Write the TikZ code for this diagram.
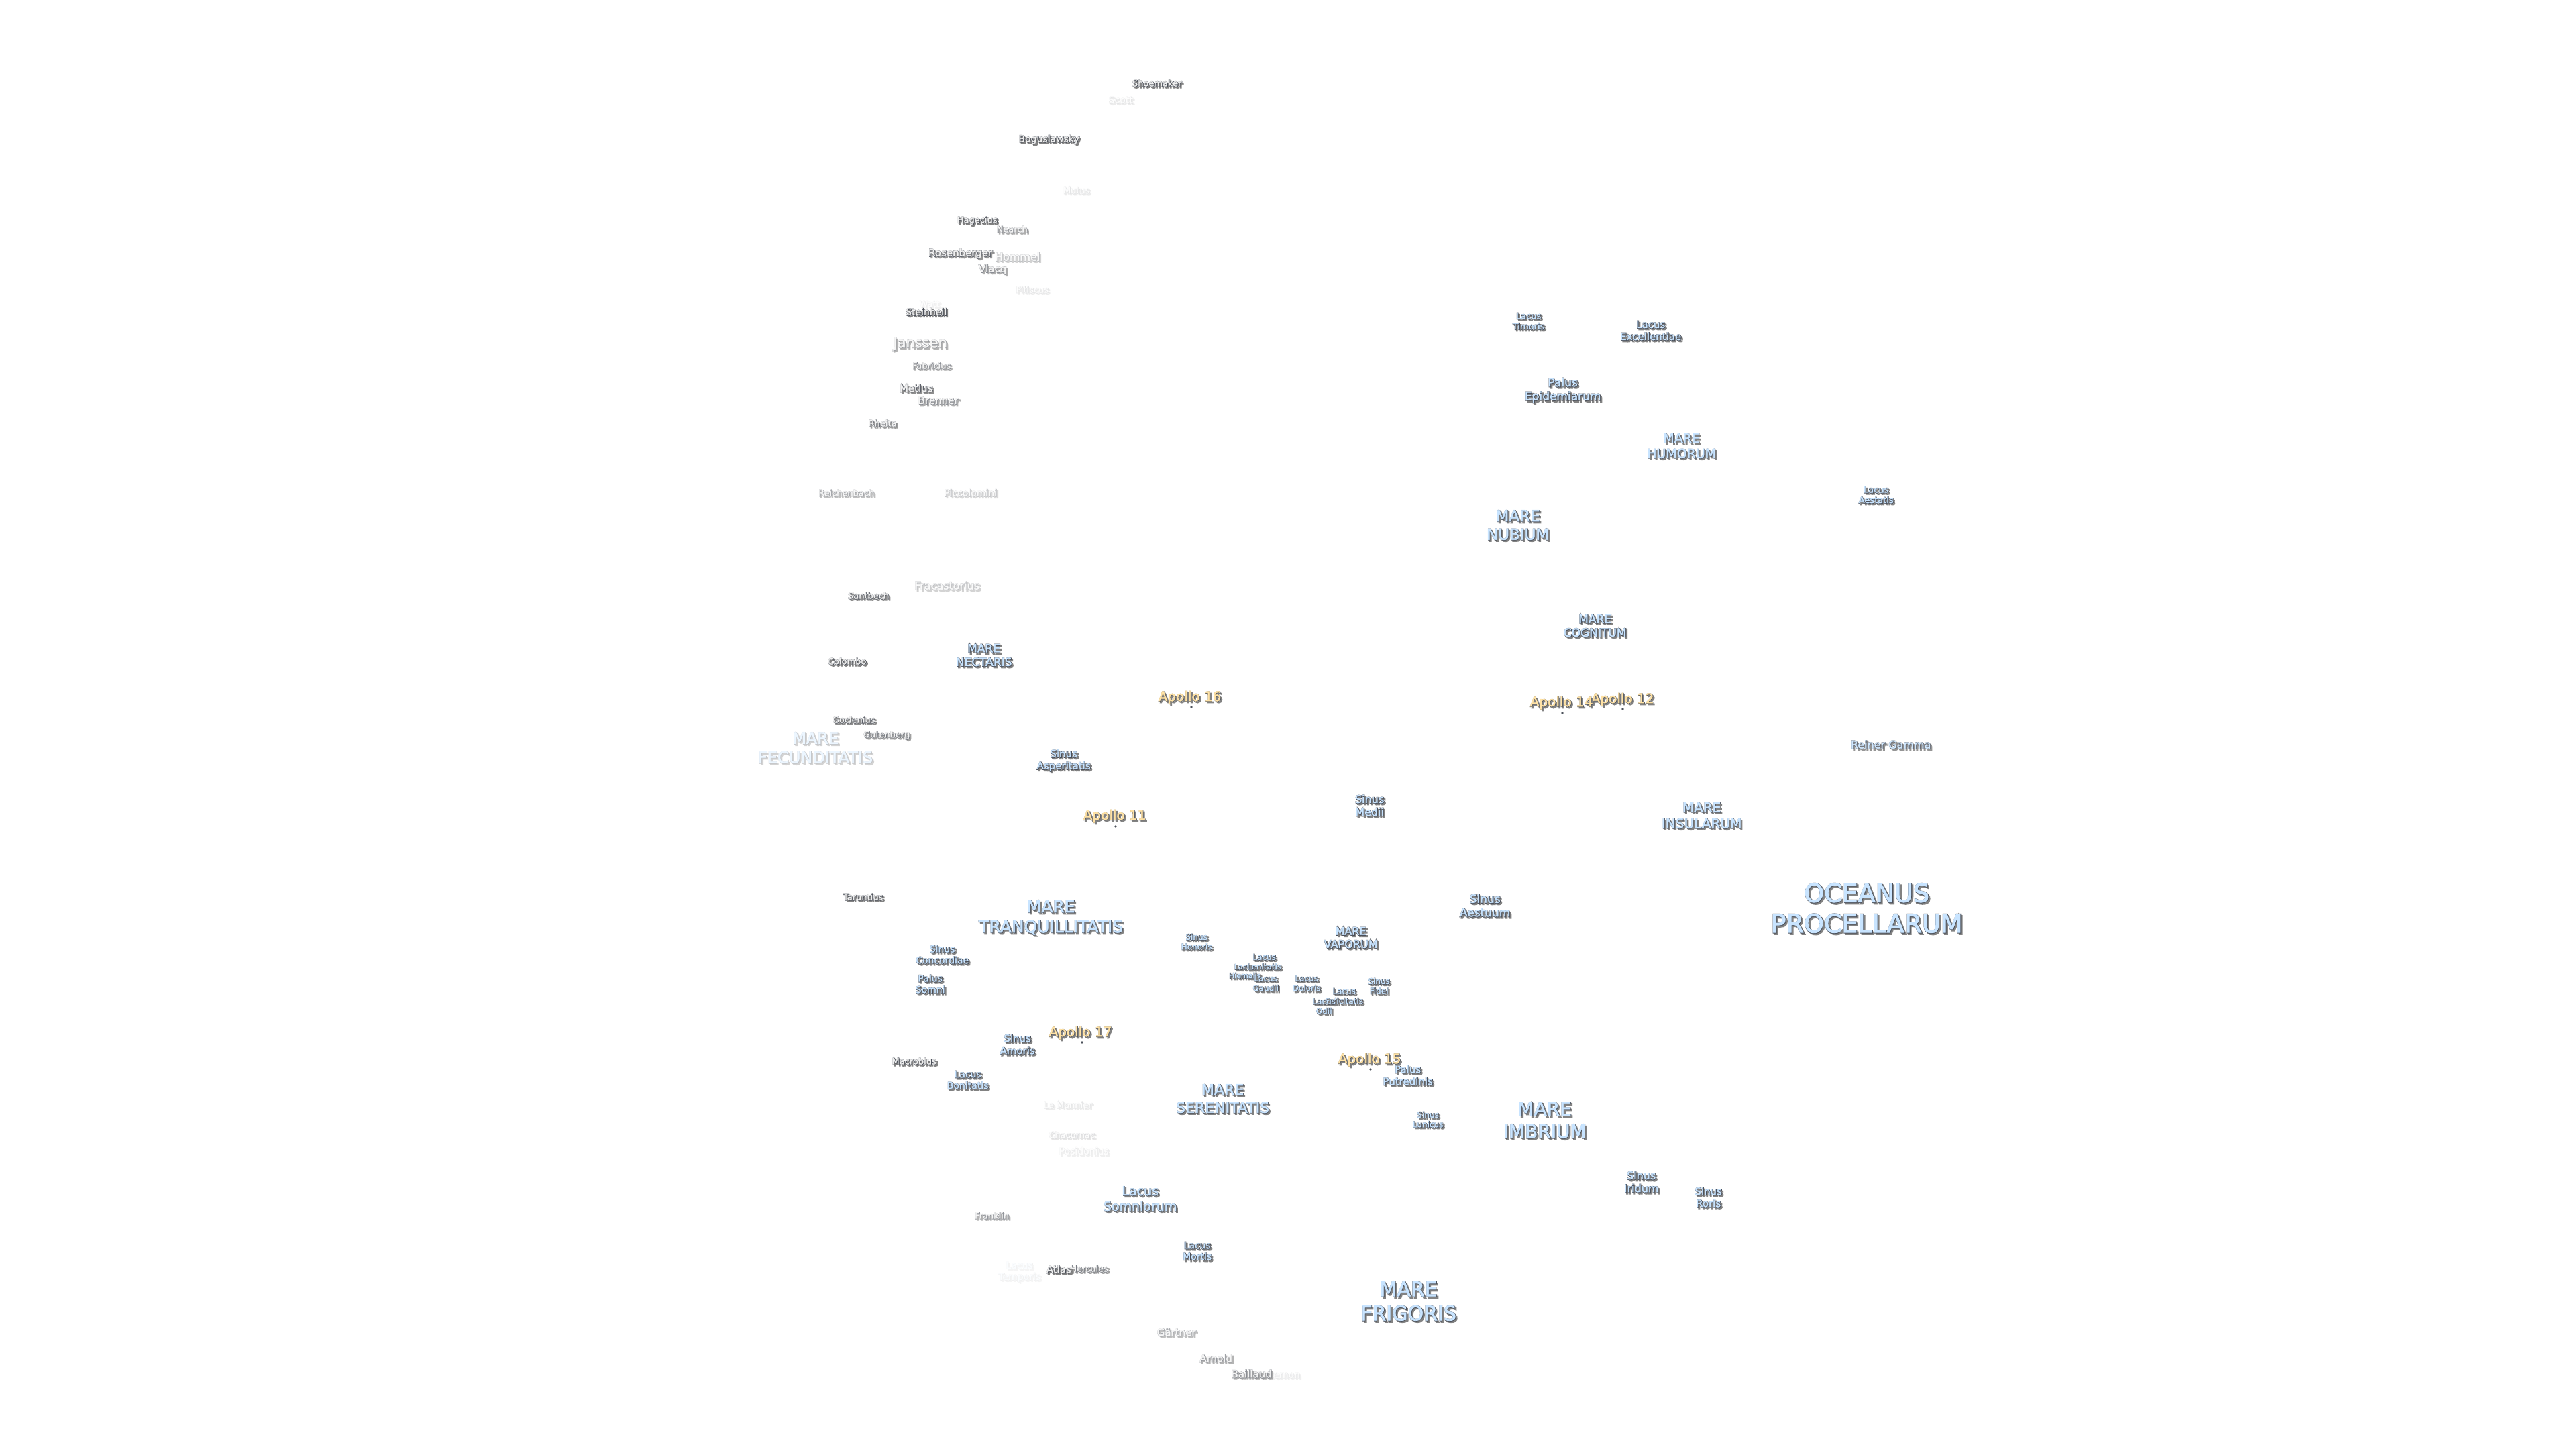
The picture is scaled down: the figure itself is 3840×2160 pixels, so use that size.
\documentclass[tikz,border=0pt]{standalone}
\usepackage{fontspec}
\setmainfont{DejaVu Sans}
\newfontfamily\moonpensmall[FakeBold=10]{DejaVu Sans}
\newfontfamily\moonpenbig[FakeBold=5.5]{DejaVu Sans}
\newfontfamily\moonbody[FakeBold=2.5]{DejaVu Sans}
\usepackage{xcolor}
\usepackage{tikz}
\usetikzlibrary{positioning}
\definecolor{mareFill}{RGB}{200, 228, 255}
\definecolor{craterFill}{RGB}{240, 240, 240}
\definecolor{apolloFill}{RGB}{255, 226, 165}
\definecolor{rimDark}{RGB}{75, 80, 90}
\definecolor{shadeGray}{RGB}{130, 130, 130}
\tikzset{
    moonrim/.style={text=rimDark, align=center, inner sep=0pt},
    moonshade/.style={text=shadeGray, align=center, inner sep=0pt},
    moonfill/.style={align=center, inner sep=0pt},
    sitedot/.style={circle, fill=rimDark, inner sep=0pt, minimum size=0.9pt}
}
\newcommand{\moonlabel}[7]{%
    \pgfmathsetmacro\ptsize{#4/4}%
    \pgfmathsetmacro\ptskip{#4*1.2/4}%
    \ifnum#4<18 \let\moonpen\moonpensmall\else\let\moonpen\moonpenbig\fi
    \begin{scope}[transparency group, opacity=#5]
        \node[moonshade, font=\fontsize{\ptsize}{\ptskip}\selectfont\moonpen] (#1-shade) at (#2+2.2,#3+2.2) {#7};
        \node[moonrim, font=\fontsize{\ptsize}{\ptskip}\selectfont\moonpen] (#1-rim) at (#2,#3) {#7};
        \node[moonfill, text=#6, font=\fontsize{\ptsize}{\ptskip}\selectfont\moonbody] (#1) at (#2-0.4,#3-0.4) {#7};
    \end{scope}%
}
\begin{document}
\begin{tikzpicture}[x=0.25pt, y=-0.25pt]
    \useasboundingbox (0,0) rectangle (3840,2160);
    % craters, faint ones first
    \foreach \name/\x/\y/\fs/\op/\txt in {
        watt/1386/453/13/0.1/Watt, euctemon/1903/2049/14/0.12/Euctemon,
        scott/1671/149/14/0.15/Scott, mutus/1605/284/13/0.15/Mutus,
        pitiscus/1539/432/13/0.15/Pitiscus, monnier/1592/1647/13/0.15/Le Monnier,
        chacornac/1598/1692/13/0.2/Chacornac, posidonius/1616/1716/14/0.12/Posidonius,
        piccolomini/1447/735/14/0.3/Piccolomini, hommel/1517/383/16/0.35/Hommel,
        fracastorius/1412/873/16/0.35/Fracastorius, reichenbach/1262/735/13/0.5/Reichenbach,
        gartner/1754/1986/15/0.5/Gärtner, arnold/1813/2025/15/0.6/Arnold,
        franklin/1479/1812/13/0.6/Franklin, janssen/1372/513/21/0.6/Janssen,
        nearch/1509/342/13/0.65/Nearch, vlacq/1480/402/15/0.65/Vlacq,
        fabricius/1389/545/13/0.65/Fabricius, brenner/1399/597/15/0.65/Brenner,
        baillaud/1866/2048/15/0.65/Baillaud, gutenberg/1322/1096/13/0.75/Gutenberg,
        hercules/1624/1891/13/0.75/Hercules, rheita/1316/631/13/0.8/Rheita,
        rosenberger/1432/378/15/0.85/Rosenberger, metius/1366/579/15/0.9/Metius,
        santbech/1295/888/13/0.9/Santbech, goclenius/1273/1073/13/0.9/Goclenius,
        shoemaker/1725/124/13/1/Shoemaker, boguslawsky/1564/208/14/1/Boguslawsky,
        hagecius/1457/329/13/1/Hagecius, steinheil/1381/465/14/1/Steinheil,
        colombo/1263/986/13/1/Colombo, taruntius/1287/1337/13/1/Taruntius,
        macrobius/1363/1582/13/1/Macrobius, atlas/1581/1892/15/1/Atlas
    }{
        \moonlabel{\name}{\x}{\y}{\fs}{\op}{craterFill}{\txt}
    }
    % maria, lakes and bays
    \foreach \name/\x/\y/\fs/\op/\txt in {
        temporis/1520/1896/14/0.08/Lacus\\Temporis,
        fecunditatis/1216/1115/24/0.35/MARE\\FECUNDITATIS,
        reiner/2819/1110/16/0.85/Reiner Gamma,
        nectaris/1467/977/17/1/MARE\\NECTARIS,
        asperitatis/1586/1134/15/1/Sinus\\Asperitatis,
        tranquillitatis/1567/1368/25/1/MARE\\TRANQUILLITATIS,
        concordiae/1405/1423/14/1/Sinus\\Concordiae,
        somni/1387/1467/14/1/Palus\\Somni,
        honoris/1784/1404/12/1/Sinus\\Honoris,
        vaporum/2014/1398/16/1/MARE\\VAPORUM,
        hiemalis/1856/1448/11/1/Lacus\\Hiemalis,
        lenitatis/1885/1434/12/1/Lacus\\Lenitatis,
        gaudii/1887/1466/12/1/Lacus\\Gaudii,
        doloris/1948/1466/12/1/Lacus\\Doloris,
        felicitatis/2004/1485/12/1/Lacus\\Felicitatis,
        odii/1974/1500/12/1/Lacus\\Odii,
        fidei/2056/1470/12/1/Sinus\\Fidei,
        putredinis/2099/1603/15/1/Palus\\Putredinis,
        amoris/1517/1557/15/1/Sinus\\Amoris,
        bonitatis/1443/1610/14/1/Lacus\\Bonitatis,
        serenitatis/1823/1638/22/1/MARE\\SERENITATIS,
        somniorum/1700/1787/19/1/Lacus\\Somniorum,
        mortis/1785/1865/14/1/Lacus\\Mortis,
        timoris/2279/479/13/1/Lacus\\Timoris,
        excellentiae/2461/493/15/1/Lacus\\Excellentiae,
        epidemiarum/2330/582/17/1/Palus\\Epidemiarum,
        humorum/2507/665/19/1/MARE\\HUMORUM,
        aestatis/2797/738/13/1/Lacus\\Aestatis,
        nubium/2263/783/23/1/MARE\\NUBIUM,
        cognitum/2378/933/17/1/MARE\\COGNITUM,
        insularum/2537/1216/20/1/MARE\\INSULARUM,
        procellarum/2783/1354/38/1/OCEANUS\\PROCELLARUM,
        lunicus/2129/1669/12/1/Sinus\\Lunicus,
        imbrium/2303/1670/28/1/MARE\\IMBRIUM,
        iridum/2447/1762/16/1/Sinus\\Iridum,
        roris/2547/1785/15/1/Sinus\\Roris,
        frigoris/2100/1940/30/1/MARE\\FRIGORIS,
        medii/2042/1201/16/1/Sinus\\Medii,
        aestuum/2214/1350/17/1/Sinus\\Aestuum
    }{
        \moonlabel{\name}{\x}{\y}{\fs}{\op}{mareFill}{\txt}
    }
    % landing sites
    \foreach \name/\x/\y/\dx/\dy/\txt in {
        apollo11/1662/1217/1663/1232/Apollo 11,
        apollo12/2419/1043/2419/1057/Apollo 12,
        apollo14/2328/1048/2329/1063/Apollo 14,
        apollo15/2042/1580/2043/1594/Apollo 15,
        apollo16/1774/1040/1776/1054/Apollo 16,
        apollo17/1614/1540/1613/1554/Apollo 17
    }{
        \node[sitedot] (\name-site) at (\dx,\dy) {};
        \moonlabel{\name}{\x}{\y}{20}{1}{apolloFill}{\txt}
    }
\end{tikzpicture}
\end{document}
